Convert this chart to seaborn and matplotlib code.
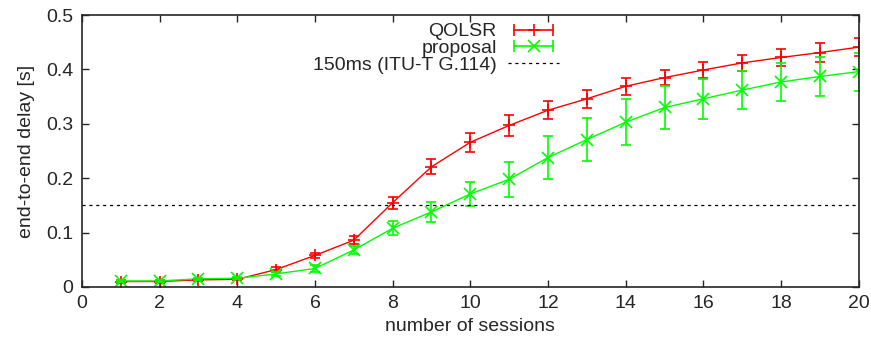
import numpy as np
import pandas as pd
import matplotlib
matplotlib.use("Agg")
import matplotlib.pyplot as plt
import seaborn as sns
from matplotlib.lines import Line2D
from matplotlib.legend_handler import HandlerLine2D, HandlerTuple
from matplotlib.ticker import FuncFormatter

#%% Data
sessions = list(range(1, 21))
qolsr_delay = [0.010, 0.010, 0.013, 0.014, 0.032, 0.058, 0.086, 0.155, 0.221, 0.266,
               0.297, 0.325, 0.346, 0.369, 0.385, 0.399, 0.412, 0.422, 0.431, 0.441]
qolsr_err = [0.002, 0.002, 0.002, 0.002, 0.004, 0.005, 0.007, 0.011, 0.014, 0.017,
             0.019, 0.017, 0.017, 0.016, 0.014, 0.014, 0.014, 0.015, 0.017, 0.016]
proposal_delay = [0.011, 0.011, 0.015, 0.016, 0.024, 0.034, 0.068, 0.108, 0.138, 0.171,
                  0.198, 0.238, 0.271, 0.303, 0.330, 0.346, 0.362, 0.377, 0.387, 0.396]
proposal_err = [0.002, 0.002, 0.002, 0.002, 0.003, 0.006, 0.008, 0.013, 0.018, 0.022,
                0.032, 0.039, 0.039, 0.042, 0.040, 0.037, 0.035, 0.035, 0.035, 0.035]
threshold = 0.15
threshold_label = "150ms (ITU-T G.114)"

df = pd.DataFrame({"sessions": sessions * 2,
                   "delay": qolsr_delay + proposal_delay,
                   "err": qolsr_err + proposal_err,
                   "method": ["QOLSR"] * 20 + ["proposal"] * 20})

#%% Plot
sns.set_style("ticks")
plt.rcParams["font.family"] = ["Liberation Sans", "DejaVu Sans"]
plt.rcParams["xtick.direction"] = "in"
plt.rcParams["ytick.direction"] = "in"

colors = {"QOLSR": "#ff0000", "proposal": "#00ff00"}
markers = {"QOLSR": "+", "proposal": "x"}
fs = 14

fig, ax = plt.subplots(figsize=(8.71, 3.42), dpi=100)
fig.subplots_adjust(left=0.094, right=0.986, top=0.956, bottom=0.161)

sns.lineplot(data=df, x="sessions", y="delay", hue="method",
             palette=colors, linewidth=1, legend=False, ax=ax)

for name in ["QOLSR", "proposal"]:
    sub = df[df["method"] == name]
    ax.errorbar(sub["sessions"], sub["delay"], yerr=sub["err"], fmt="none",
                ecolor=colors[name], elinewidth=1.2, capsize=3.5, capthick=1.2)
    ax.plot(sub["sessions"], sub["delay"], linestyle="none", marker=markers[name],
            color=colors[name], markersize=8, markeredgewidth=1.2)

ax.axhline(threshold, color="black", linestyle=(0, (2.5, 3)), linewidth=0.9)

ax.set_xlim(0, 20)
ax.set_ylim(0, 0.5)
ax.set_xticks(np.arange(0, 21, 2))
ax.set_yticks(np.arange(0, 0.51, 0.1))
ax.yaxis.set_major_formatter(FuncFormatter(lambda v, p: "0" if abs(v) < 1e-9 else f"{v:.1f}"))
ax.tick_params(top=True, right=True, length=5, width=1, labelsize=fs, pad=6)
for s in ax.spines.values():
    s.set_linewidth(1.2)
ax.set_xlabel("number of sessions", fontsize=fs, labelpad=4)
ax.set_ylabel("end-to-end delay [s]", fontsize=fs, labelpad=8)

# gnuplot style legend: text on the left, bar with caps on the right
handles = []
hmap = {}
for name in ["QOLSR", "proposal"]:
    caps = Line2D([], [], color=colors[name], linewidth=1.2, marker="|",
                  markersize=8, markeredgewidth=1.2)
    mid = Line2D([], [], color=colors[name], linestyle="none", marker=markers[name],
                 markersize=8, markeredgewidth=1.2)
    hmap[caps] = HandlerLine2D(numpoints=2)
    hmap[mid] = HandlerLine2D(numpoints=1)
    handles.append((caps, mid))
dash = Line2D([], [], color="black", linestyle=(0, (2.5, 3)), linewidth=0.9)
handles.append(dash)
hmap[tuple] = HandlerTuple(ndivide=1, pad=0)

ax.legend(handles, ["QOLSR", "proposal", threshold_label], handler_map=hmap,
          loc="upper right", bbox_to_anchor=(0.624, 1.0), frameon=False,
          markerfirst=False, fontsize=fs, handlelength=2.6, handletextpad=0.6,
          labelspacing=-0.05, borderaxespad=0.0)

plt.savefig("out.png", dpi=100)
plt.close()
